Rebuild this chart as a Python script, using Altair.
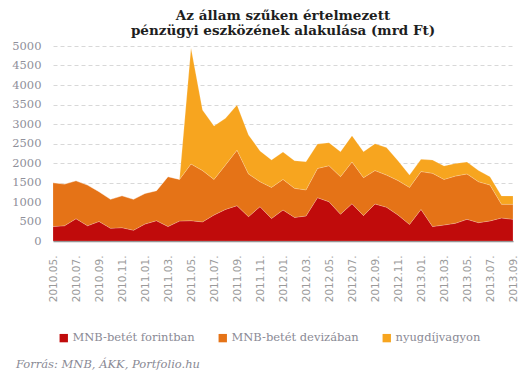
import altair as alt
import pandas as pd

months = [
    "2010.05.", "2010.06.", "2010.07.", "2010.08.", "2010.09.", "2010.10.", "2010.11.", "2010.12.",
    "2011.01.", "2011.02.", "2011.03.", "2011.04.", "2011.05.", "2011.06.", "2011.07.", "2011.08.",
    "2011.09.", "2011.10.", "2011.11.", "2011.12.", "2012.01.", "2012.02.", "2012.03.", "2012.04.",
    "2012.05.", "2012.06.", "2012.07.", "2012.08.", "2012.09.", "2012.10.", "2012.11.", "2012.12.",
    "2013.01.", "2013.02.", "2013.03.", "2013.04.", "2013.05.", "2013.06.", "2013.07.", "2013.08.",
    "2013.09.",
]

series_names = ["MNB-betét forintban", "MNB-betét devizában", "nyugdíjvagyon"]
series_colors = ["#C00B0B", "#E57317", "#F7A51F"]

forint = [370, 390, 570, 390, 500, 325, 340, 275, 435, 520, 370, 510, 520, 490, 665, 810,
          905, 625, 880, 575, 795, 605, 640, 1110, 1005, 685, 955, 650, 950, 865, 665, 425,
          810, 370, 410, 455, 555, 470, 515, 590, 555]
deviza = [1125, 1070, 975, 1045, 765, 745, 820, 795, 785, 770, 1280, 1070, 1455, 1315, 915, 1140,
          1425, 1095, 640, 800, 785, 745, 670, 750, 925, 965, 1070, 975, 855, 825, 885, 950,
          970, 1365, 1170, 1210, 1165, 1050, 920, 350, 385]
nyugdij = [0, 0, 0, 0, 0, 0, 0, 0, 0, 0, 0, 0, 2975, 1555, 1370, 1195,
           1160, 1000, 790, 705, 700, 710, 725, 625, 590, 640, 675, 665, 690, 705, 510, 315,
           315, 340, 345, 325, 305, 285, 215, 215, 215]

y_ticks = [0, 500, 1000, 1500, 2000, 2500, 3000, 3500, 4000, 4500, 5000]
title_lines = ["Az állam szűken értelmezett ", "pénzügyi eszközének alakulása (mrd Ft)"]
source_text = "Forrás: MNB, ÁKK, Portfolio.hu"

rows = []
for k, (name, vals) in enumerate(zip(series_names, [forint, deviza, nyugdij])):
    for m, v in zip(months, vals):
        rows.append({"honap": m, "sorozat": name, "ertek": v, "rend": k})
df = pd.DataFrame(rows)

serif = "DejaVu Serif"

area = alt.Chart(df).mark_area(opacity=1, stroke="white", strokeWidth=0.3, strokeOpacity=0.6).encode(
    x=alt.X("honap:O", sort=months,
            scale=alt.Scale(type="point", padding=0),
            axis=alt.Axis(title=None, values=months[::2], labelAngle=270, labelPadding=14,
                          ticks=False, labelFont="DejaVu Sans", labelFontSize=10.5,
                          labelColor="#9a9a9a", domainColor="#8a8a8a", domainWidth=1.5,
                          grid=False)),
    y=alt.Y("ertek:Q", stack="zero",
            scale=alt.Scale(domain=[0, 5000], nice=False),
            axis=alt.Axis(title=None, values=y_ticks, format="d", ticks=False, domain=False,
                          labelPadding=12, labelFont=serif, labelFontSize=11.5,
                          labelColor="#8f8f9a", gridColor="#d8d8d8", gridDash=[4, 3],
                          gridWidth=1)),
    color=alt.Color("sorozat:N", sort=series_names,
                    scale=alt.Scale(domain=series_names, range=series_colors),
                    legend=alt.Legend(title=None, orient="none", direction="horizontal",
                                      legendX=5, legendY=286, symbolType="square",
                                      symbolSize=70, symbolStrokeWidth=0, columnPadding=22,
                                      labelFont=serif, labelFontSize=11.5, labelColor="#8a8a95",
                                      labelOffset=3)),
    order=alt.Order("rend:Q"),
)

source = alt.Chart(pd.DataFrame({"t": [source_text]})).mark_text(
    align="left", baseline="middle", font=serif, fontSize=11.5, fontStyle="italic",
    color="#8a8a95"
).encode(text="t:N", x=alt.value(-37), y=alt.value(319))

chart = alt.layer(area, source).properties(
    width=460, height=195,
    padding={"left": 45, "top": 38, "right": 6, "bottom": 130},
    autosize=alt.AutoSizeParams(type="none"),
    title=alt.TitleParams(text=title_lines, anchor="middle", font=serif, fontSize=13.5,
                          fontWeight="bold", color="#1e1e1e", lineHeight=15, offset=3),
).configure_view(stroke=None)

chart.save("out.html", embed_options={"renderer": "svg", "actions": False})
